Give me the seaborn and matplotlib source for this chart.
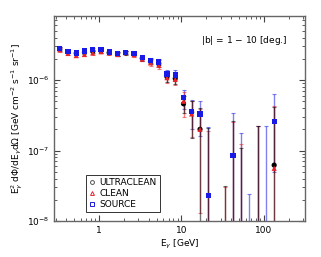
import numpy as np
import pandas as pd
import seaborn as sns
import matplotlib.pyplot as plt
from matplotlib.lines import Line2D

nan = np.nan

# bin centres [GeV]
energy = [0.335, 0.422, 0.531, 0.668, 0.841, 1.06, 1.33, 1.68, 2.11, 2.66,
          3.35, 4.22, 5.31, 6.68, 8.41, 10.6, 13.3, 16.8, 21.1, 26.6,
          33.5, 42.2, 53.1, 66.8, 84.1, 106, 133]

# ULTRACLEAN (black)
uc_flux = [2.73e-6, 2.52e-6, 2.39e-6, 2.47e-6, 2.55e-6, 2.58e-6, 2.44e-6, 2.34e-6, 2.42e-6, 2.32e-6,
           2.03e-6, 1.82e-6, 1.70e-6, 1.11e-6, 1.05e-6, 4.6e-7, 3.5e-7, 2.0e-7, 3e-9, nan,
           3e-9, 3e-9, 3e-9, nan, 3e-9, nan, 6.2e-8]
uc_lo = [2.58e-6, 2.38e-6, 2.26e-6, 2.34e-6, 2.42e-6, 2.45e-6, 2.31e-6, 2.21e-6, 2.29e-6, 2.18e-6,
         1.88e-6, 1.66e-6, 1.52e-6, 0.95e-6, 0.88e-6, 3.4e-7, 1.5e-7, 1e-9, 1e-9, nan,
         1e-9, 1e-9, 1e-9, nan, 1e-9, nan, 1e-9]
uc_hi = [2.89e-6, 2.67e-6, 2.53e-6, 2.61e-6, 2.69e-6, 2.72e-6, 2.58e-6, 2.48e-6, 2.56e-6, 2.47e-6,
         2.19e-6, 1.99e-6, 1.89e-6, 1.28e-6, 1.23e-6, 6.0e-7, 5.1e-7, 4.0e-7, 2.1e-7, nan,
         3.1e-8, 2.6e-7, 1.07e-7, nan, 2.2e-7, nan, 4.2e-7]

# CLEAN (red)
cl_flux = [2.68e-6, 2.38e-6, 2.22e-6, 2.30e-6, 2.42e-6, 2.52e-6, 2.42e-6, 2.30e-6, 2.44e-6, 2.28e-6,
           1.98e-6, 1.75e-6, 1.62e-6, 1.08e-6, 1.02e-6, 5.0e-7, 3.3e-7, 2.0e-7, 3e-9, nan,
           3e-9, 3e-9, 3e-9, nan, 3e-9, nan, 5.6e-8]
cl_lo = [2.53e-6, 2.24e-6, 2.09e-6, 2.17e-6, 2.29e-6, 2.38e-6, 2.28e-6, 2.16e-6, 2.30e-6, 2.13e-6,
         1.83e-6, 1.59e-6, 1.44e-6, 0.92e-6, 0.84e-6, 3.0e-7, 1.55e-7, 1.3e-8, 1e-9, nan,
         1e-9, 1e-9, 1e-9, nan, 1e-9, nan, 1e-9]
cl_hi = [2.84e-6, 2.53e-6, 2.36e-6, 2.44e-6, 2.56e-6, 2.67e-6, 2.57e-6, 2.45e-6, 2.59e-6, 2.44e-6,
         2.14e-6, 1.92e-6, 1.81e-6, 1.26e-6, 1.21e-6, 6.8e-7, 5.0e-7, 3.9e-7, 1.9e-7, nan,
         3.0e-8, 2.57e-7, 1.24e-7, nan, 2.2e-7, nan, 4.3e-7]

# SOURCE (blue)
so_flux = [2.80e-6, 2.55e-6, 2.42e-6, 2.58e-6, 2.68e-6, 2.70e-6, 2.50e-6, 2.36e-6, 2.45e-6, 2.40e-6,
           2.10e-6, 1.90e-6, 1.80e-6, 1.22e-6, 1.18e-6, 5.7e-7, 3.6e-7, 3.3e-7, 2.3e-8, nan,
           nan, 8.6e-8, 3e-9, 3e-9, 3e-9, 3e-9, 2.56e-7]
so_lo = [2.65e-6, 2.41e-6, 2.29e-6, 2.44e-6, 2.54e-6, 2.56e-6, 2.36e-6, 2.22e-6, 2.31e-6, 2.25e-6,
         1.94e-6, 1.73e-6, 1.61e-6, 1.05e-6, 1.00e-6, 3.9e-7, 2.0e-7, 1.6e-7, 1e-9, nan,
         nan, 1e-9, 1e-9, 1e-9, 1e-9, 1e-9, 5e-8]
so_hi = [2.96e-6, 2.70e-6, 2.56e-6, 2.73e-6, 2.83e-6, 2.85e-6, 2.65e-6, 2.51e-6, 2.60e-6, 2.56e-6,
         2.27e-6, 2.08e-6, 2.00e-6, 1.40e-6, 1.37e-6, 7.2e-7, 5.2e-7, 5.1e-7, 2.18e-7, nan,
         nan, 3.37e-7, 1.75e-7, 2.4e-8, 2.2e-7, 2.2e-7, 6.3e-7]

series = ["ULTRACLEAN", "CLEAN", "SOURCE"]
colors = {"ULTRACLEAN": "black", "CLEAN": "#e8222a", "SOURCE": "#1a1ae6"}
markers = {"ULTRACLEAN": "o", "CLEAN": "^", "SOURCE": "s"}

rows = []
for name, fl, lo, hi in [("ULTRACLEAN", uc_flux, uc_lo, uc_hi),
                         ("CLEAN", cl_flux, cl_lo, cl_hi),
                         ("SOURCE", so_flux, so_lo, so_hi)]:
    for e, f, l, h in zip(energy, fl, lo, hi):
        rows.append({"energy": e, "flux": f, "lo": l, "hi": h, "sample": name})
df = pd.DataFrame(rows)

plt.rcParams['font.family'] = ['DejaVu Sans']
fig = plt.figure(figsize=(3.21, 2.57), dpi=100)
ax = fig.add_axes([0.168, 0.140, 0.782, 0.798])

# error bars, drawn under the markers
for name in ["SOURCE", "CLEAN", "ULTRACLEAN"]:
    d = df[(df["sample"] == name) & df["hi"].notna()]
    f = d["flux"].values
    ax.errorbar(d["energy"], f, yerr=[f - d["lo"].values, d["hi"].values - f],
                fmt="none", ecolor=colors[name], elinewidth=1.0, capsize=1.5,
                capthick=0.8, alpha=0.55, zorder=2)

sns.scatterplot(data=df.dropna(subset=["flux"]), x="energy", y="flux",
                hue="sample", style="sample", hue_order=["CLEAN", "SOURCE", "ULTRACLEAN"],
                palette=colors, markers=markers, s=14, linewidth=0, legend=False,
                ax=ax, zorder=3)

ax.set_xscale("log")
ax.set_yscale("log")
ax.set_xlim(0.285, 314)
ax.set_ylim(1e-8, 8.1e-6)

ax.tick_params(which="both", direction="in", top=True, right=True, labelsize=6.5,
               color="#444444")
ax.tick_params(which="major", length=4)
ax.tick_params(which="minor", length=2)
for s in ax.spines.values():
    s.set_color("#666666")
    s.set_linewidth(1.0)
ax.set_xticks([1, 10, 100])
ax.set_xticklabels(["1", "10", "100"])

ax.set_xlabel(r"E$_\gamma$ [GeV]", fontsize=6.5, labelpad=2)
ax.set_ylabel(r"E$_\gamma^2$ d$\Phi$/dE$_\gamma$d$\Omega$ [GeV cm$^{-2}$ s$^{-1}$ sr$^{-1}$]",
              fontsize=6.5, labelpad=1)

ax.text(0.93, 0.88, "|b| = 1 $-$ 10 [deg.]", transform=ax.transAxes,
        ha="right", va="center", fontsize=6.5)

handles = [Line2D([], [], ls="none", marker=markers[n], markersize=2.8,
                  markerfacecolor="none", markeredgecolor=c, markeredgewidth=0.7)
           for n, c in [("ULTRACLEAN", "#555555"), ("CLEAN", "#e8222a"), ("SOURCE", "#1a1ae6")]]
leg = ax.legend(handles, series, loc="lower left", bbox_to_anchor=(0.11, 0.02),
                fontsize=6.5, frameon=True, fancybox=False, handlelength=0.6,
                handletextpad=0.5, borderpad=0.4, labelspacing=0.2)
leg.get_frame().set_edgecolor("black")
leg.get_frame().set_linewidth(0.7)

fig.savefig("out.png", dpi=100)
